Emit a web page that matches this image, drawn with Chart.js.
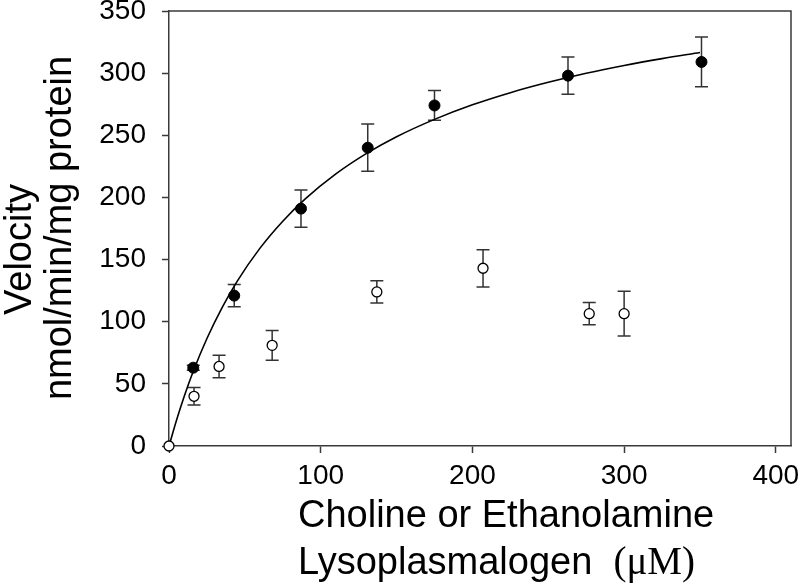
<!DOCTYPE html>
<html><head><meta charset="utf-8">
<script src="https://cdn.jsdelivr.net/npm/chart.js@4.4.1/dist/chart.umd.min.js"></script>
<style>html,body{margin:0;padding:0;background:#fff}#wrap{width:800px;height:588px;position:relative}</style>
</head><body><div id="wrap"><canvas id="c" width="800" height="588"></canvas></div>
<script>
// ---- data ----
const xTickValues = [0, 100, 200, 300, 400];
const yTickValues = [0, 50, 100, 150, 200, 250, 300, 350];

// Choline lysoplasmalogen (filled circles)
const cholineX   = [16, 43, 87, 131, 175, 263, 351];
const cholineY   = [63, 121, 191, 240, 274, 298, 309];
const cholineErr = [2, 9, 15, 19, 12, 15, 20];

// Ethanolamine lysoplasmalogen (open circles)
const ethanolX   = [0, 16.5, 33, 68, 137, 207, 277, 300];
const ethanolY   = [0, 40, 64, 81, 124, 143, 106.5, 106.5];
const ethanolErr = [0, 7, 9, 12, 9, 15, 9, 18];

// Fitted curve
const curveX = [0, 5, 10, 16, 25, 35, 45, 60, 75, 90, 110, 130, 150, 175, 200, 225, 250, 275, 300, 325, 350];
const curveY = [0, 20.9, 39.8, 60.1, 86.5, 111.4, 132.7, 159.2, 180.9, 199.0, 218.9, 235.2, 248.8, 262.8, 274.5, 284.3, 292.6, 299.9, 306.2, 311.7, 316.6];

const xTitleLine1 = "Choline or Ethanolamine";
const xTitleLine2a = "Lysoplasmalogen  ";
const xTitleLine2b = "(\u03BCM)";
const yTitleLine1 = "Velocity";
const yTitleLine2 = "nmol/min/mg protein";

// ---- helpers ----
const toPts = (xs, ys) => xs.map((x, i) => ({x: x, y: ys[i]}));
const AXIS = '#3a3a3a';
const SANS = '"Liberation Sans", Arial, sans-serif';

const errorBars = {
  id: 'errorBars',
  beforeDatasetsDraw(chart) {
    const ctx = chart.ctx, xs = chart.scales.x, ys = chart.scales.y;
    ctx.save();
    ctx.strokeStyle = '#333';
    ctx.lineWidth = 1.5;
    const draw = (X, Y, E) => {
      X.forEach((xv, i) => {
        const e = E[i]; if (!e) return;
        const px = xs.getPixelForValue(xv);
        const top = ys.getPixelForValue(Y[i] + e);
        const bot = ys.getPixelForValue(Y[i] - e);
        ctx.beginPath();
        ctx.moveTo(px, top); ctx.lineTo(px, bot);
        ctx.moveTo(px - 6.5, top); ctx.lineTo(px + 6.5, top);
        ctx.moveTo(px - 6.5, bot); ctx.lineTo(px + 6.5, bot);
        ctx.stroke();
      });
    };
    draw(cholineX, cholineY, cholineErr);
    draw(ethanolX, ethanolY, ethanolErr);
    ctx.restore();
  }
};

const frameAndTitles = {
  id: 'frameAndTitles',
  afterDraw(chart) {
    const ctx = chart.ctx, a = chart.chartArea;
    ctx.save();
    ctx.strokeStyle = AXIS;
    ctx.lineWidth = 1.5;
    ctx.beginPath();
    ctx.moveTo(a.left, a.top); ctx.lineTo(a.right, a.top); ctx.lineTo(a.right, a.bottom);
    ctx.stroke();

    ctx.fillStyle = '#000';
    ctx.textBaseline = 'alphabetic';
    ctx.textAlign = 'left';
    ctx.font = '38px ' + SANS;
    ctx.fillText(xTitleLine1, 298, 527);
    ctx.fillText(xTitleLine2a, 298, 574);
    const w = ctx.measureText(xTitleLine2a).width;
    ctx.font = '39px "Liberation Serif", "Times New Roman", serif';
    ctx.fillText(xTitleLine2b, 298 + w, 574);

    ctx.font = '38px ' + SANS;
    ctx.textAlign = 'center';
    ctx.save();
    ctx.translate(31, 249.5);
    ctx.rotate(-Math.PI / 2);
    ctx.fillText(yTitleLine1, 0, 0);
    ctx.restore();
    ctx.save();
    ctx.translate(71, 228);
    ctx.rotate(-Math.PI / 2);
    ctx.fillText(yTitleLine2, 0, 0);
    ctx.restore();
    ctx.restore();
  }
};

new Chart(document.getElementById('c'), {
  type: 'scatter',
  data: {
    datasets: [
      {
        label: 'Fit',
        type: 'line',
        data: toPts(curveX, curveY),
        borderColor: '#000',
        borderWidth: 1.6,
        pointRadius: 0,
        fill: false,
        cubicInterpolationMode: 'monotone',
        order: 3
      },
      {
        label: 'Choline lysoplasmalogen',
        data: toPts(cholineX, cholineY),
        pointStyle: 'circle',
        pointRadius: 5.5,
        backgroundColor: '#000',
        borderColor: '#000',
        borderWidth: 1,
        clip: false,
        order: 2
      },
      {
        label: 'Ethanolamine lysoplasmalogen',
        data: toPts(ethanolX, ethanolY),
        pointStyle: 'circle',
        pointRadius: 5,
        backgroundColor: '#fff',
        borderColor: '#000',
        borderWidth: 1.3,
        clip: false,
        order: 1
      }
    ]
  },
  options: {
    responsive: false,
    animation: false,
    devicePixelRatio: 1,
    layout: { padding: { left: 0, right: 9, top: 11, bottom: 0 } },
    plugins: { legend: { display: false }, tooltip: { enabled: false }, title: { display: false } },
    scales: {
      x: {
        type: 'linear', position: 'bottom', min: 0, max: 410,
        ticks: { stepSize: 100, includeBounds: false, color: '#000', font: { family: SANS, size: 28 }, padding: 6, maxRotation: 0 },
        grid: { drawOnChartArea: false, drawTicks: true, tickLength: 7, tickColor: AXIS, tickWidth: 1.5 },
        border: { display: true, color: AXIS, width: 1.5 },
        afterBuildTicks: s => { s.ticks = xTickValues.map(v => ({ value: v })); },
        afterFit: s => { s.height = 142; s.paddingLeft = 0; s.paddingRight = 0; }
      },
      y: {
        type: 'linear', position: 'left', min: 0, max: 350,
        ticks: { stepSize: 50, includeBounds: false, color: '#000', font: { family: SANS, size: 28 }, padding: 16 },
        grid: { drawOnChartArea: false, drawTicks: true, tickLength: 7, tickColor: AXIS, tickWidth: 1.5 },
        border: { display: true, color: AXIS, width: 1.5 },
        afterBuildTicks: s => { s.ticks = yTickValues.map(v => ({ value: v })); },
        afterFit: s => { s.width = 169; s.paddingTop = 0; s.paddingBottom = 0; }
      }
    }
  },
  plugins: [errorBars, frameAndTitles]
});
</script>
</body></html>
